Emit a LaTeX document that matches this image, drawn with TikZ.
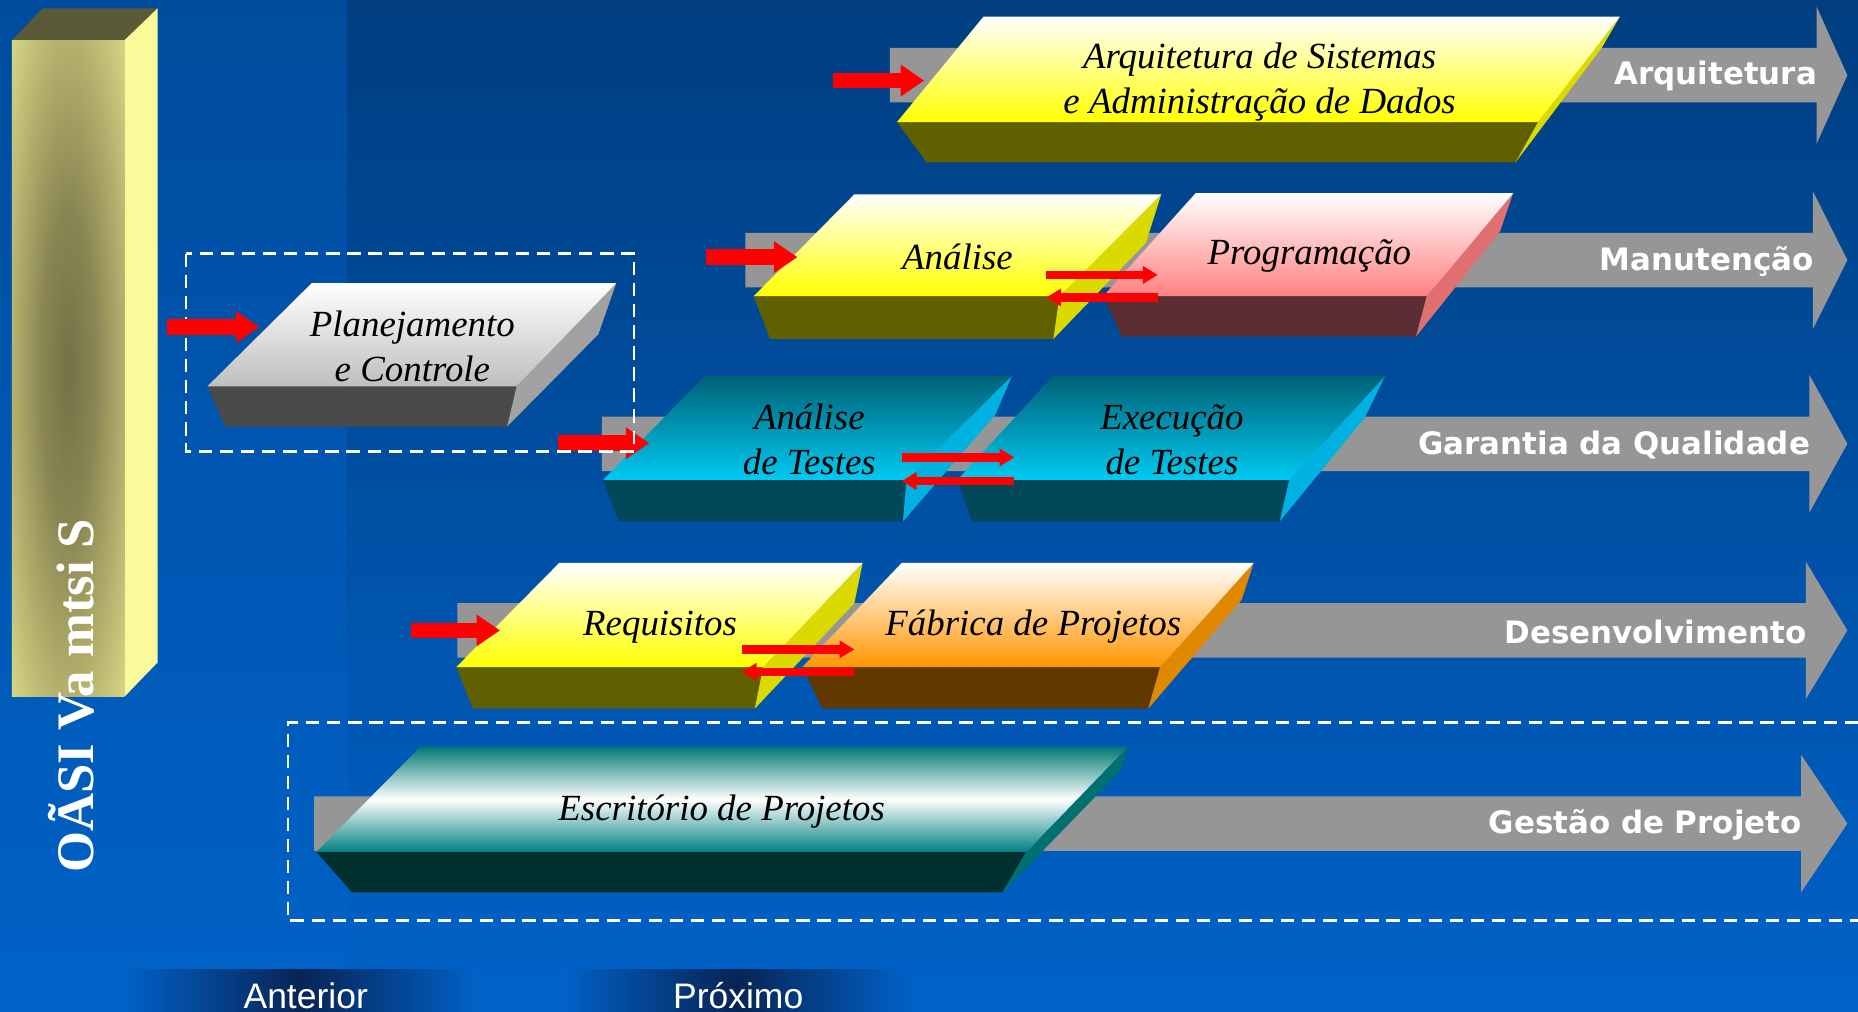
\documentclass[tikz,border=0pt]{standalone}
\usepackage{fontspec}
\setmainfont{Liberation Serif}
\newfontfamily\lanefont{DejaVu Sans}
\newfontfamily\navfont{Liberation Sans}
\usepackage{tikz}
\usetikzlibrary{arrows.meta,shapes}
\usetikzlibrary{positioning}

\definecolor{bgtop}{RGB}{0,62,128}
\definecolor{bgstrip}{RGB}{0,76,156}
\definecolor{bgbot}{RGB}{0,98,200}
\definecolor{navdark}{RGB}{8,36,86}
\definecolor{lanegray}{RGB}{150,150,150}
\definecolor{barin}{RGB}{118,113,70}
\definecolor{barout}{RGB}{250,250,155}
\pgfdeclareradialshading{barshade}{\pgfpoint{0bp}{0bp}}{color(0bp)=(barin); color(12bp)=(barin!85!barout); color(46bp)=(barout); color(50bp)=(barout)}

\tikzstyle{lane} = [fill=lanegray]
\tikzstyle{lanelabel} = [text=white, anchor=east, inner sep=0pt,
    font=\lanefont\bfseries\fontsize{8.8}{11}\selectfont]
\tikzstyle{slabtext} = [align=center, inner sep=0pt,
    font=\itshape\fontsize{10.5}{12.8}\selectfont]
\tikzstyle{feed} = [draw=red, line width=4.4pt, -{Triangle[length=6.7pt,width=8.6pt]}]
\tikzstyle{link} = [draw=red, line width=2.4pt, -{Triangle[length=4.2pt,width=4.8pt]}]
\tikzstyle{frame} = [draw=white, line width=0.8pt, dash pattern=on 3.8pt off 2.2pt]
\tikzstyle{nav} = [text=white, anchor=base, inner sep=0pt, font=\navfont\fontsize{10.1}{12}\selectfont]
\tikzstyle{navband} = [left color=bgbot, right color=bgbot, middle color=navdark]
% faces of the slabs
\tikzstyle{yeltop} = [top color=white, bottom color=yellow]
\tikzstyle{yelfront} = [fill={rgb,255:red,96;green,96;blue,0}]
\tikzstyle{yelside} = [fill={rgb,255:red,218;green,218;blue,0}]
\tikzstyle{grytop} = [top color=white, bottom color={rgb,255:red,190;green,190;blue,190}]
\tikzstyle{gryfront} = [fill={rgb,255:red,74;green,74;blue,74}]
\tikzstyle{gryside} = [fill={rgb,255:red,162;green,162;blue,162}]
\tikzstyle{pnktop} = [top color=white, bottom color={rgb,255:red,255;green,128;blue,128}]
\tikzstyle{pnkfront} = [fill={rgb,255:red,92;green,45;blue,50}]
\tikzstyle{pnkside} = [fill={rgb,255:red,224;green,112;blue,112}]
\tikzstyle{cyntop} = [top color={rgb,255:red,0;green,98;blue,118}, bottom color={rgb,255:red,0;green,202;blue,242}]
\tikzstyle{cynfront} = [fill={rgb,255:red,0;green,72;blue,90}]
\tikzstyle{cynside} = [fill={rgb,255:red,0;green,178;blue,226}]
\tikzstyle{orntop} = [top color=white, bottom color={rgb,255:red,255;green,150;blue,0}]
\tikzstyle{ornfront} = [fill={rgb,255:red,96;green,56;blue,0}]
\tikzstyle{ornside} = [fill={rgb,255:red,224;green,136;blue,0}]
\tikzstyle{teatop} = [top color={rgb,255:red,0;green,120;blue,116}, bottom color={rgb,255:red,0;green,128;blue,128}, middle color=white]
\tikzstyle{teafront} = [fill={rgb,255:red,0;green,48;blue,48}]
\tikzstyle{teaside} = [fill={rgb,255:red,0;green,112;blue,112}]

% #1 name, #2 colour set, #3..#9 corners: bl, br, fl, fr, flb, frb, brb
\newcommand{\slab}[9]{%
  \coordinate (#1-bl) at (#3); \coordinate (#1-br) at (#4);
  \coordinate (#1-fl) at (#5); \coordinate (#1-fr) at (#6);
  \coordinate (#1-flb) at (#7); \coordinate (#1-frb) at (#8);
  \coordinate (#1-brb) at (#9);
  \fill[#2front] (#1-fl) -- (#1-fr) -- (#1-frb) -- (#1-flb) -- cycle;
  \fill[#2side] (#1-br) -- (#1-brb) -- (#1-frb) -- (#1-fr) -- cycle;
  \shade[#2top] (#1-bl) -- (#1-br) -- (#1-fr) -- (#1-fl) -- cycle;}

% #1 name, #2 centre y, #3 left x, #4 head x, #5 label
\newcommand{\lane}[5]{%
  \fill[lane] (#3,#2-23) -- (#4,#2-23) -- (#4,#2-58) -- (1559,#2)
    -- (#4,#2+58) -- (#4,#2+23) -- (#3,#2+23) -- cycle;
  \node[lanelabel] (#1) at (#4+1,#2+1) {#5};}

\begin{document}
\begin{tikzpicture}[x=0.01185cm, y=-0.01185cm]
  \useasboundingbox (0,0) rectangle (1568,854);
  % background
  \shade[top color=bgtop, bottom color=bgbot] (0,0) rectangle (1568,854);
  \shade[top color=bgstrip, bottom color=bgbot] (0,0) rectangle (293,854);

  % side bar
  \fill[fill={rgb,255:red,90;green,90;blue,56}] (10,34) -- (36,7) -- (133,7) -- (105,34) -- cycle;
  \fill[barout] (105,34) -- (133,7) -- (133,559) -- (105,588) -- cycle;
  \shade[shading=barshade] (10,34) rectangle (105,588);
  \node[rotate=90, text=white, inner sep=0pt,
    font=\bfseries\fontsize{15}{15}\selectfont] (titulo) at (60,587) {OÃSI Va mtsi S};

  % lanes
  \lane{arquitetura}{63.5}{751}{1533}{Arquitetura}
  \lane{manutencao}{219.5}{629}{1530}{Manutenção}
  \lane{garantia}{374.5}{508}{1527}{Garantia da Qualidade}
  \lane{desenv}{532}{386}{1524}{Desenvolvimento}
  \lane{gestao}{695}{265}{1520}{Gestão de Projeto}

  % Place slabs
  \slab{arq}{yel}{830,14}{1367,14}{757,103}{1298,103}{782,137}{1279,137}{1352,40}
  \slab{plan}{gry}{263,239}{520,239}{175,326}{436,326}{190,360}{428,360}{505,282}
  \slab{prog}{pnk}{1009,163}{1277,163}{931,250}{1204,250}{947,284}{1195,284}{1266,195}
  \slab{ana}{yel}{721,164}{980,164}{636,250}{894,250}{650,286}{889,286}{967,205}
  \slab{exe}{cyn}{889,317}{1169,317}{808,405}{1088,405}{820,440}{1080,440}{1152,352}
  \slab{ant}{cyn}{595,317}{854,317}{509,405}{765,405}{522,440}{762,440}{840,350}
  \slab{fab}{orn}{761,475}{1058,475}{677,563}{979,563}{694,598}{969,598}{1048,506}
  \slab{req}{yel}{472,475}{728,475}{385,563}{644,563}{399,598}{637,598}{721,509}
  \slab{esc}{tea}{355,630}{952,630}{267,719}{866,719}{297,753}{846,753}{946,650}

  \node[slabtext] (arqtxt) at (1063,69) {Arquitetura de Sistemas\\e Administração de Dados};
  \node[slabtext] (plantxt) at (348,292) {Planejamento\\e Controle};
  \node[slabtext] (anatxt) at (808,217) {Análise};
  \node[slabtext] (progtxt) at (1105,216) {Programação};
  \node[slabtext] (anttxt) at (683,371) {Análise\\de Testes};
  \node[slabtext] (exetxt) at (989,371) {Execução\\de Testes};
  \node[slabtext] (reqtxt) at (557,529) {Requisitos};
  \node[slabtext] (fabtxt) at (872,529) {Fábrica de Projetos};
  \node[slabtext] (esctxt) at (609,685) {Escritório de Projetos};

  % red arrows
  \coordinate (arq-in) at (703,68);   \coordinate (arq-w) at (780,68);
  \coordinate (plan-in) at (141,276); \coordinate (plan-w) at (219,276);
  \coordinate (ana-in) at (596,217);  \coordinate (ana-w) at (673,217);
  \coordinate (ant-in) at (471,374);  \coordinate (ant-w) at (548,374);
  \coordinate (req-in) at (347,532);  \coordinate (req-w) at (422,532);
  \coordinate (ana-e1) at (883,232);  \coordinate (prog-w1) at (977,232);
  \coordinate (ana-e2) at (883,251);  \coordinate (prog-w2) at (977,251);
  \coordinate (ant-e1) at (761,386);  \coordinate (exe-w1) at (856,386);
  \coordinate (ant-e2) at (761,406);  \coordinate (exe-w2) at (856,406);
  \coordinate (req-e1) at (626,548);  \coordinate (fab-w1) at (721,548);
  \coordinate (req-e2) at (626,567);  \coordinate (fab-w2) at (721,567);
  \draw[feed] (arq-in) -- (arq-w);
  \draw[feed] (ana-in) -- (ana-w);
  \draw[feed] (ant-in) -- (ant-w);
  \draw[feed] (req-in) -- (req-w);
  \draw[link] (ana-e1) -- (prog-w1);
  \draw[link] (prog-w2) -- (ana-e2);
  \draw[link] (ant-e1) -- (exe-w1);
  \draw[link] (exe-w2) -- (ant-e2);
  \draw[link] (req-e1) -- (fab-w1);
  \draw[link] (fab-w2) -- (req-e2);

  % dashed frames
  \draw[frame] (157,214) rectangle (535,381);
  \draw[frame] (1568,610) -- (243,610) -- (243,777) -- (1568,777);
  \draw[feed] (plan-in) -- (plan-w);

  % bottom buttons
  \shade[navband] (103,818) rectangle (404,854);
  \shade[navband] (473,818) rectangle (770,854);
  \node[nav] (anterior) at (258,851) {Anterior};
  \node[nav] (proximo) at (623,851) {Próximo};
\end{tikzpicture}
\end{document}
